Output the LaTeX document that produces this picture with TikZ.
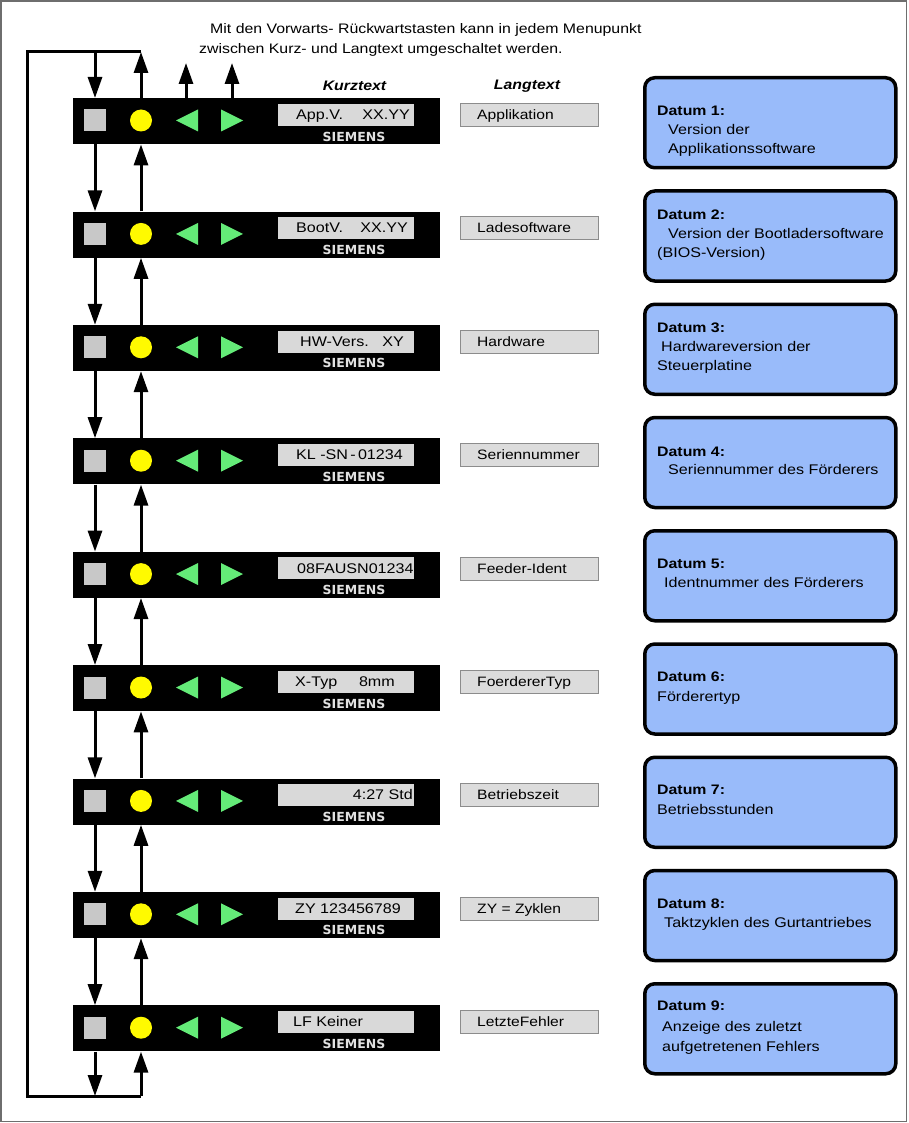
\documentclass[tikz,border=0pt]{standalone}
\usepackage{fontspec}
\setmainfont{Liberation Sans}[FakeStretch=1.15]
\newfontfamily\siefont{DejaVu Sans}
\usetikzlibrary{arrows.meta}
\definecolor{keygray}{RGB}{200,200,200}
\definecolor{keyyellow}{RGB}{255,250,0}
\definecolor{keygreen}{RGB}{100,235,120}
\definecolor{dispgray}{RGB}{217,217,217}
\definecolor{langgray}{RGB}{220,220,220}
\definecolor{langborder}{RGB}{140,140,140}
\definecolor{infoblue}{RGB}{153,187,250}
\definecolor{siewhite}{RGB}{225,225,225}
\definecolor{framegray}{RGB}{110,110,110}
\tikzset{
  panel/.style={fill=black, minimum width=367pt, minimum height=46pt, anchor=north west, inner sep=0pt},
  keysq/.style={fill=keygray, minimum size=22pt, inner sep=0pt},
  keyci/.style={circle, fill=keyyellow, minimum size=22pt, inner sep=0pt},
  disp/.style={fill=dispgray, minimum width=136pt, minimum height=22pt, anchor=north west, inner sep=0pt},
  lang/.style={fill=langgray, draw=langborder, line width=1pt, minimum width=138pt, minimum height=23pt, anchor=north west, inner sep=0pt},
  info/.style={fill=infoblue, draw=black, line width=3.5pt, rounded corners=10pt, minimum width=251pt, minimum height=90pt, anchor=north west, inner sep=0pt},
  sie/.style={font=\siefont\bfseries\fontsize{12.5}{14}\selectfont, text=siewhite, inner sep=0pt},
  dtxtl/.style={font=\fontsize{14}{17}\selectfont, anchor=base west, inner sep=0pt},
  dtxtr/.style={font=\fontsize{14}{17}\selectfont, anchor=base east, inner sep=0pt},
  ltxt/.style={font=\fontsize{13.6}{17}\selectfont, anchor=base west, inner sep=0pt},
  itxt/.style={font=\fontsize{14}{17}\selectfont, anchor=base west, inner sep=0pt},
  ihead/.style={font=\bfseries\fontsize{13.8}{17}\selectfont, anchor=base west, inner sep=0pt},
  chead/.style={font=\bfseries\itshape\fontsize{13.8}{17}\selectfont, inner sep=0pt},
  note/.style={font=\fontsize{13.8}{17}\selectfont, anchor=base west, inner sep=0pt},
  conn/.style={line width=3pt},
  arr/.style={conn, -{Triangle[length=21pt,width=14pt]}},
}
\begin{document}
\begin{tikzpicture}[x=1pt,y=-1pt]
\useasboundingbox (0,0) rectangle (908,1123);
\draw[framegray, line width=1.2pt] (1,1) rectangle (906.5,1121.5);

% header texts
\node[note] (n1) at (210,34) {Mit den Vorwarts- Rückwartstasten kann in jedem Menupunkt};
\node[note] (n2) at (199,54) {zwischen Kurz- und Langtext umgeschaltet werden.};
\node[chead] (hk) at (354.5,86) {Kurztext};
\node[chead] (hl) at (527,86) {Langtext};

% panels
\foreach \i/\xa/\a/\xb/\b/\l in {
  1/296/App.V./410/XX.YY/Applikation,
  2/296/BootV./408/XX.YY/Ladesoftware,
  3/300/HW-Vers./404/XY/Hardware,
  4/296/KL/403/-SN\,-\,01234/Seriennummer,
  5/297/08FAUSN01234/412//Feeder-Ident,
  6/295/X-Typ/395/8mm/FoerdererTyp,
  7/295//413/4:27 Std/Betriebszeit,
  8/295/ZY 123456789/400//ZY = Zyklen,
  9/293/LF Keiner/400//LetzteFehler}{
  \pgfmathsetmacro\T{98+113.4*(\i-1)}
  \pgfmathsetmacro\R{76+113.25*(\i-1)}
  \node[panel] (p\i) at (73,\T) {};
  \node[keysq] (s\i) at (95,\T+22.5) {};
  \node[keyci] (c\i) at (141,\T+22.5) {};
  \fill[keygreen] (176,\T+22.5) -- (198,\T+11.5) -- (198,\T+33.5) -- cycle;
  \fill[keygreen] (221,\T+11.5) -- (243,\T+22.5) -- (221,\T+33.5) -- cycle;
  \node[disp] (d\i) at (278,\T+5.5) {};
  \node[dtxtl] (da\i) at (\xa,\T+21.5) {\a};
  \node[dtxtr] (db\i) at (\xb,\T+21.5) {\b};
  \node[sie] (sie\i) at (354,\T+38.5) {SIEMENS};
  \node[lang] (l\i) at (460,\T+5) {};
  \node[ltxt] (lt\i) at (477,\T+21.5) {\l};
  \node[info] (r\i) at (643,\R) {};
}

% info texts
\node[ihead] at (657,116) {Datum 1:};
\node[itxt] at (668,135) {Version der};
\node[itxt] at (668,154) {Applikationssoftware};

\node[ihead] at (657,219) {Datum 2:};
\node[itxt] at (668,238) {Version der Bootladersoftware};
\node[itxt] at (657,257) {(BIOS-Version)};

\node[ihead] at (657,332) {Datum 3:};
\node[itxt] at (661,351) {Hardwareversion der};
\node[itxt] at (657,370) {Steuerplatine};

\node[ihead] at (657,456) {Datum 4:};
\node[itxt] at (668,474) {Seriennummer des Förderers};

\node[ihead] at (657,568) {Datum 5:};
\node[itxt] at (664,587) {Identnummer des Förderers};

\node[ihead] at (657,681) {Datum 6:};
\node[itxt] at (657,701) {Förderertyp};

\node[ihead] at (657,794) {Datum 7:};
\node[itxt] at (657,814) {Betriebsstunden};

\node[ihead] at (657,908) {Datum 8:};
\node[itxt] at (664,927) {Taktzyklen des Gurtantriebes};

\node[ihead] at (657,1010) {Datum 9:};
\node[itxt] at (662,1031) {Anzeige des zuletzt};
\node[itxt] at (662,1051) {aufgetretenen Fehlers};

% connectors
\coordinate (tl) at (27,52);
\coordinate (bl) at (27,1096);
\coordinate (u1) at (186,63);
\coordinate (u2) at (232,63);
\draw[conn, line join=miter] (c1 |- tl) -- (tl) -- (bl) -- (c9 |- bl);
\draw[arr] (s1 |- tl) -- (s1 |- p1.north);
\draw[arr] (c1 |- p1.north) -- (c1 |- tl);
\draw[arr] (u1 |- p1.north) -- (u1);
\draw[arr] (u2 |- p1.north) -- (u2);
\foreach \i [evaluate=\i as \j using int(\i+1)] in {1,...,8}{
  \draw[arr] (s\i |- p\i.south) -- (s\i |- p\j.north);
  \draw[arr] (c\i |- p\j.north) -- (c\i |- p\i.south);
}
\draw[arr] (s9 |- p9.south) -- (s9 |- bl);
\draw[arr] (c9 |- bl) -- (c9 |- p9.south);
\end{tikzpicture}
\end{document}
